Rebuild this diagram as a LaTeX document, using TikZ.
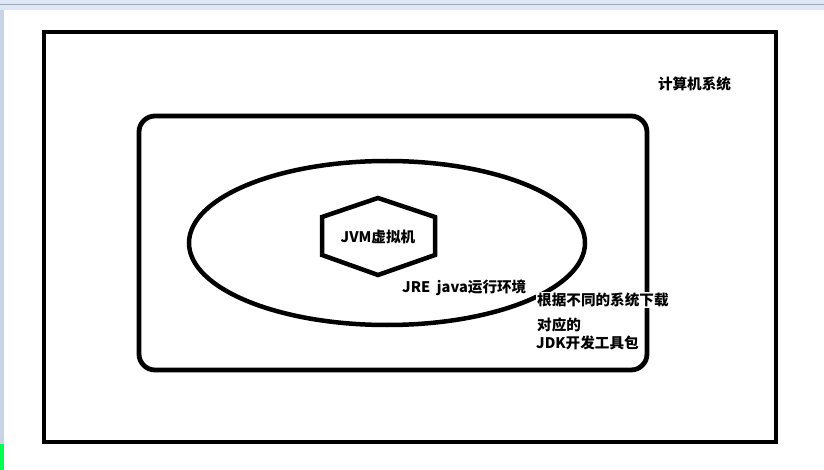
\documentclass[tikz,border=0pt]{standalone}
\usepackage{fontspec}
\setmainfont{Noto Sans CJK SC}
\usetikzlibrary{shapes.geometric}
\definecolor{barblue}{RGB}{221,231,245}
\definecolor{bargrey}{RGB}{160,172,188}
\definecolor{sideblue}{RGB}{200,212,228}
\definecolor{markgreen}{RGB}{0,255,80}
\tikzstyle{frame} = [draw=black, line width=4.5pt, minimum width=732pt, minimum height=410pt]
\tikzstyle{jrebox} = [draw=black, line width=4.8pt, rounded corners=16pt, minimum width=508pt, minimum height=254pt]
\tikzstyle{oval} = [ellipse, draw=black, line width=4.5pt, minimum width=396pt, minimum height=164pt]
\tikzstyle{txt} = [font=\bfseries\fontsize{14.6}{15}\selectfont, inner sep=1pt, fill=white]
\begin{document}
\begin{tikzpicture}[x=1pt,y=-1pt]
\useasboundingbox (0,0) rectangle (824,470);
% screenshot edges
\fill[barblue] (0,0) rectangle (824,10);
\fill[bargrey] (0,4.5) rectangle (824,5.5);
\fill[sideblue] (0,10) rectangle (4,470);
\fill[markgreen] (0,444) rectangle (4,470);
% shapes
\node (computer) [frame] at (410,237) {};
\node (jdk) [jrebox] at (393,243) {};
\node (jre) [oval] at (387,243) {};
\draw[line width=4.5pt, line join=miter] (378,198) -- (435,217) -- (435,255) -- (378,275) -- (322,255) -- (322,217) -- cycle;
\node (jvm) [txt, fill=none] at (378,237) {JVM虚拟机};
% labels
\node (computerlbl) [txt] at (694.5,84) {计算机系统};
\node (jrelbl) [txt, anchor=west] at (401,288) {JRE\ \ java运行环境};
\node (jdklbl1) [txt, anchor=west] at (536,300) {根据不同的系统下载};
\node (jdklbl2) [txt, anchor=west, fill=none] at (536,325) {对应的};
\node (jdklbl3) [txt, anchor=west, fill=none] at (535,343) {JDK开发工具包};
\end{tikzpicture}
\end{document}
